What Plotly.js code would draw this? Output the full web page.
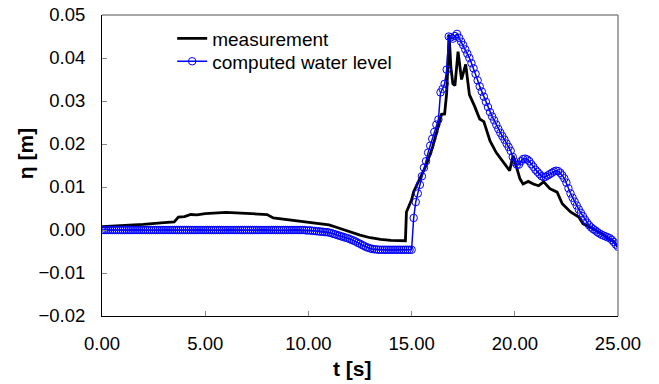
<!DOCTYPE html>
<html>
<head>
<meta charset="utf-8">
<script src="https://cdn.plot.ly/plotly-3.0.1.min.js"></script>
<style>html,body{margin:0;padding:0;background:#fff;}#chart{width:659px;height:384px;}</style>
</head>
<body>
<div id="chart"></div>
<script>
// measurement (black line)
const tMeas = [0.0,0.5,1.0,2.0,3.0,3.5,3.7,4.0,4.3,4.6,5.0,5.5,6.0,6.5,7.0,7.5,8.0,8.3,9.0,9.5,10.0,10.5,11.0,11.5,12.0,12.5,13.0,13.5,14.0,14.7,
  14.75,14.9,15.0,15.1,15.4,15.7,16.0,16.3,16.45,16.6,16.7,16.82,16.9,17.0,17.1,17.25,17.42,17.62,17.8,18.05,18.3,18.5,18.8,19.1,19.45,19.75,19.92,
  20.1,20.25,20.4,20.65,20.9,21.15,21.4,21.7,22.05,22.3,22.7,23.1,23.3,23.8,24.3,24.8,25.0];
const etaMeas = [0.0008,0.0009,0.0011,0.0013,0.0017,0.0019,0.0030,0.0031,0.0036,0.0035,0.0038,0.0039,0.0041,0.0040,0.0039,0.0038,0.0036,0.0028,0.0024,0.0021,0.0018,0.0015,0.0012,0.0004,-0.0004,-0.0012,-0.0018,-0.0022,-0.0024,-0.0025,
  0.0042,0.0057,0.0070,0.0089,0.0119,0.0150,0.0190,0.0242,0.0269,0.0270,0.0319,0.0454,0.0380,0.0340,0.0336,0.0415,0.0350,0.0385,0.0315,0.0288,0.0258,0.0252,0.0207,0.0180,0.0157,0.0138,0.0173,
  0.0140,0.0119,0.0107,0.0113,0.0107,0.0103,0.0112,0.0096,0.0088,0.0061,0.0042,0.0030,0.0015,0.0003,-0.0012,-0.0027,-0.0039];

// computed water level (blue, one value every 0.1 s from 0.0 to 25.0)
const tComp = [0.0,0.1,0.2,0.3,0.4,0.5,0.6,0.7,0.8,0.9,1.0,1.1,1.2,1.3,1.4,1.5,1.6,1.7,1.8,1.9,2.0,2.1,2.2,2.3,2.4,2.5,2.6,2.7,2.8,2.9,
  3.0,3.1,3.2,3.3,3.4,3.5,3.6,3.7,3.8,3.9,4.0,4.1,4.2,4.3,4.4,4.5,4.6,4.7,4.8,4.9,5.0,5.1,5.2,5.3,5.4,5.5,5.6,5.7,5.8,5.9,
  6.0,6.1,6.2,6.3,6.4,6.5,6.6,6.7,6.8,6.9,7.0,7.1,7.2,7.3,7.4,7.5,7.6,7.7,7.8,7.9,8.0,8.1,8.2,8.3,8.4,8.5,8.6,8.7,8.8,8.9,
  9.0,9.1,9.2,9.3,9.4,9.5,9.6,9.7,9.8,9.9,10.0,10.1,10.2,10.3,10.4,10.5,10.6,10.7,10.8,10.9,11.0,11.1,11.2,11.3,11.4,11.5,11.6,11.7,11.8,11.9,
  12.0,12.1,12.2,12.3,12.4,12.5,12.6,12.7,12.8,12.9,13.0,13.1,13.2,13.3,13.4,13.5,13.6,13.7,13.8,13.9,14.0,14.1,14.2,14.3,14.4,14.5,14.6,14.7,14.8,14.9,
  15.0,15.1,15.2,15.3,15.4,15.5,15.6,15.7,15.8,15.9,16.0,16.1,16.2,16.3,16.4,16.5,16.6,16.7,16.8,16.9,17.0,17.1,17.2,17.3,17.4,17.5,17.6,17.7,17.8,17.9,
  18.0,18.1,18.2,18.3,18.4,18.5,18.6,18.7,18.8,18.9,19.0,19.1,19.2,19.3,19.4,19.5,19.6,19.7,19.8,19.9,20.0,20.1,20.2,20.3,20.4,20.5,20.6,20.7,20.8,20.9,
  21.0,21.1,21.2,21.3,21.4,21.5,21.6,21.7,21.8,21.9,22.0,22.1,22.2,22.3,22.4,22.5,22.6,22.7,22.8,22.9,23.0,23.1,23.2,23.3,23.4,23.5,23.6,23.7,23.8,23.9,
  24.0,24.1,24.2,24.3,24.4,24.5,24.6,24.7,24.8,24.9,25.0];
const etaComp = [0,0,0,0,0,0,0,0,0,0,0,0,0,0,0,0,0,0,0,0,0,0,0,0,0,0,0,0,0,0,
  0,0,0,0,0,0,0,0,0,0,0,0,0,0,0,0,0,0,0,0,0,0,0,0,0,0,0,0,0,0,
  0,0,0,0,0,0,0,0,0,0,0,0,0,0,0,0,0,0,0,0,0,0,0,0,0,0,0,0,0,0,
  0,0,0,0,0,0,0,0,0,-0.0001,-0.0001,-0.0001,-0.0002,-0.0002,-0.0003,-0.0003,-0.0004,-0.0004,-0.0005,-0.0005,-0.0006,-0.0007,-0.0009,-0.0010,-0.0012,-0.0013,-0.0015,-0.0016,-0.0018,-0.0019,
  -0.0021,-0.0023,-0.0025,-0.0027,-0.0030,-0.0032,-0.0035,-0.0037,-0.0040,-0.0041,-0.0043,-0.0044,-0.0045,-0.0045,-0.0046,-0.0046,-0.0046,-0.0046,-0.0046,-0.0046,-0.0046,-0.0046,-0.0046,-0.0046,-0.0046,-0.0046,-0.0046,-0.0046,-0.0046,-0.0046,
  -0.0046,0.0028,0.0065,0.0085,0.0105,0.0125,0.0145,0.0160,0.0180,0.0196,0.0212,0.0228,0.0245,0.0257,0.0320,0.0328,0.0340,0.0373,0.0450,0.0448,0.0445,0.0451,0.0456,0.0447,0.0438,0.0430,0.0420,0.0410,0.0400,0.0388,
  0.0376,0.0363,0.0348,0.0334,0.0322,0.0310,0.0298,0.0286,0.0274,0.0264,0.0255,0.0245,0.0235,0.0226,0.0218,0.0210,0.0201,0.0193,0.0184,0.0170,0.0158,0.0152,0.0152,0.0160,0.0165,0.0166,0.0164,0.0160,0.0153,0.0147,
  0.0140,0.0135,0.0130,0.0125,0.0123,0.0124,0.0127,0.0130,0.0133,0.0136,0.0138,0.0137,0.0133,0.0127,0.0120,0.0110,0.0097,0.0085,0.0075,0.0066,0.0057,0.0048,0.0040,0.0032,0.0024,0.0017,0.0011,0.0006,0.0002,-0.0001,
  -0.0005,-0.0008,-0.0011,-0.0013,-0.0015,-0.0017,-0.0019,-0.0023,-0.0028,-0.0034,-0.0039];

const seriesNames = ["measurement", "computed water level"];
const xTickVals = [0, 5, 10, 15, 20, 25];
const yTickVals = [-0.02, -0.01, 0.00, 0.01, 0.02, 0.03, 0.04, 0.05];
const xTitle = "<b>t [s]</b>";
const yTitle = "<b>η [m]</b>";

const FONT = "Liberation Sans, Arial, sans-serif";

const traces = [
  {x: tMeas, y: etaMeas, name: seriesNames[0], mode: "lines", type: "scatter", legend: "legend",
   line: {color: "#000000", width: 2.8}},
  {x: tComp, y: etaComp, name: seriesNames[1], mode: "lines+markers", type: "scatter", legend: "legend2",
   line: {color: "#0000FF", width: 1.5},
   marker: {symbol: "circle-open", size: 7.5, color: "#0000FF", line: {width: 1, color: "#0000FF"}}}
];

const legendCommon = {xanchor: "left", yanchor: "top", bgcolor: "rgba(0,0,0,0)",
  font: {family: FONT, size: 19, color: "#000"}, itemwidth: 30};

const layout = {
  width: 659, height: 384,
  margin: {l: 102, r: 41, t: 15, b: 68},
  paper_bgcolor: "#ffffff", plot_bgcolor: "#ffffff",
  font: {family: FONT, size: 19, color: "#000"},
  showlegend: true,
  legend: Object.assign({x: 0.136, y: 0.985}, legendCommon),
  legend2: Object.assign({x: 0.136, y: 0.909}, legendCommon),
  xaxis: {range: [0, 25], tickvals: xTickVals, tickformat: ".2f", ticks: "inside", ticklen: 5, tickcolor: "#888",
          showline: true, linecolor: "#000", linewidth: 1, mirror: false, showgrid: false, zeroline: false,
          ticklabelstandoff: 11, tickfont: {family: FONT, size: 18.5}},
  yaxis: {range: [-0.02, 0.05], tickvals: yTickVals, tickformat: ".2f", ticks: "inside", ticklen: 5, tickcolor: "#888",
          showline: true, linecolor: "#000", linewidth: 1, mirror: false, showgrid: false, zeroline: false,
          ticklabelstandoff: 12, tickfont: {family: FONT, size: 18.5}},
  annotations: [
    {text: xTitle, xref: "paper", yref: "paper", x: 0.486, y: -0.173, xanchor: "center", yanchor: "middle",
     showarrow: false, font: {family: FONT, size: 21, color: "#000"}},
    {text: yTitle, xref: "paper", yref: "paper", x: -0.149, y: 0.538, xanchor: "center", yanchor: "middle",
     textangle: -90, showarrow: false, font: {family: FONT, size: 21, color: "#000"}}
  ],
  shapes: [
    {type: "line", xref: "paper", yref: "paper", x0: 0, x1: 1, y0: 1, y1: 1, line: {color: "#888888", width: 1.5}},
    {type: "line", xref: "paper", yref: "paper", x0: 1, x1: 1, y0: 0, y1: 1, line: {color: "#888888", width: 1.5}}
  ]
};

Plotly.newPlot("chart", traces, layout, {staticPlot: true, displayModeBar: false});
</script>
</body>
</html>
